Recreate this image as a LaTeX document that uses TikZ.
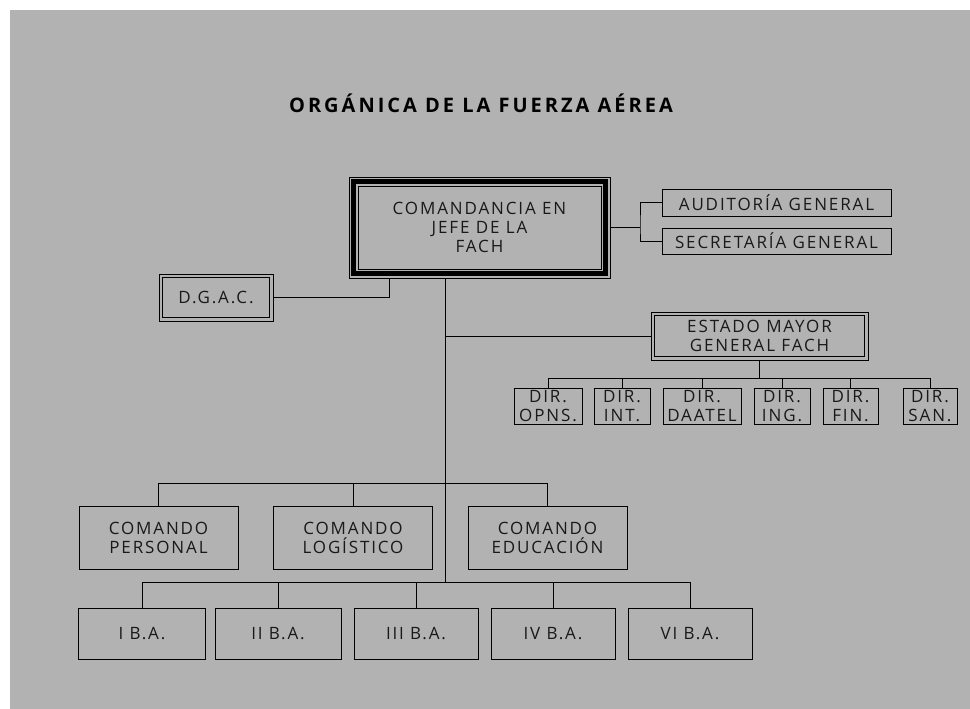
\documentclass[tikz,border=0pt]{standalone}
\usepackage{fontspec}
\setmainfont{Open Sans}[LetterSpace=11]
\newfontfamily\titulofuente{Open Sans}[LetterSpace=15]
\definecolor{fondo}{RGB}{178,178,178}
\definecolor{tinta}{RGB}{25,25,25}
\newcommand\cajaletra{\fontsize{17}{19}\selectfont}
\newcommand\tituloletra{\titulofuente\bfseries\fontsize{20}{22}\selectfont}
\begin{document}
\begin{tikzpicture}[x=1pt, y=-1pt, line width=0.9pt,
    caja/.style={draw, inner sep=0pt, align=center, font=\cajaletra, text=tinta},
    doble/.style={caja, append after command={
        \pgfextra{\draw ([shift={(4,4)}]\tikzlastnode.north west) rectangle ([shift={(-4,-4)}]\tikzlastnode.south east);}}}]
    % 背景
    \fill[white] (0,0) rectangle (970,709);
    \fill[fondo] (10,10) rectangle (970,709);
    \useasboundingbox (0,0) rectangle (970,709);
    % 标题
    \node[font=\tituloletra] (tit) at (481,103) {ORGÁNICA DE LA FUERZA AÉREA};
    % 主框
    \node[caja, minimum width=261pt, minimum height=101pt] (cj) at (479.5,227.5) {COMANDANCIA EN\\JEFE DE LA\\FACH};
    \draw[line width=4.5pt] ([shift={(5,5)}]cj.north west) rectangle ([shift={(-5,-5)}]cj.south east);
    \draw ([shift={(9.5,9.5)}]cj.north west) rectangle ([shift={(-9.5,-9.5)}]cj.south east);
    \node[caja, minimum width=229pt, minimum height=27pt] (aud) at (776.5,202.5) {AUDITORÍA GENERAL};
    \node[caja, minimum width=229pt, minimum height=26pt] (sec) at (776.5,241) {SECRETARÍA GENERAL};
    \node[doble, minimum width=114pt, minimum height=47pt] (dgac) at (216,297.5) {D.G.A.C.};
    \node[doble, minimum width=217pt, minimum height=48pt] (em) at (759.5,336) {ESTADO MAYOR\\GENERAL FACH};
    % direcciones
    \node[caja, minimum width=68pt, minimum height=36pt] (d1) at (548,406) {DIR.\\OPNS.};
    \node[caja, minimum width=56pt, minimum height=36pt] (d2) at (622,406) {DIR.\\INT.};
    \node[caja, minimum width=78pt, minimum height=36pt] (d3) at (702,406) {DIR.\\DAATEL};
    \node[caja, minimum width=56pt, minimum height=36pt] (d4) at (782,406) {DIR.\\ING.};
    \node[caja, minimum width=55pt, minimum height=36pt] (d5) at (850.5,406) {DIR.\\FIN.};
    \node[caja, minimum width=54pt, minimum height=36pt] (d6) at (930,406) {DIR.\\SAN.};
    % 司令部
    \node[caja, minimum width=159pt, minimum height=63pt] (cp) at (158.5,537.5) {COMANDO\\PERSONAL};
    \node[caja, minimum width=159pt, minimum height=63pt] (cl) at (353,537.5) {COMANDO\\LOGÍSTICO};
    \node[caja, minimum width=159pt, minimum height=63pt] (ce) at (547.5,537.5) {COMANDO\\EDUCACIÓN};
    % 基地
    \node[caja, minimum width=127pt, minimum height=51pt] (b1) at (142,633.5) {I B.A.};
    \node[caja, minimum width=126pt, minimum height=51pt] (b2) at (278,633.5) {II B.A.};
    \node[caja, minimum width=124pt, minimum height=51pt] (b3) at (416,633.5) {III B.A.};
    \node[caja, minimum width=124pt, minimum height=51pt] (b4) at (553,633.5) {IV B.A.};
    \node[caja, minimum width=124pt, minimum height=51pt] (b5) at (690,633.5) {VI B.A.};
    % 连线
    \coordinate (rama) at (640,227.5);
    \coordinate (tronco) at (445,0);
    \coordinate (dg) at (389,0);
    \coordinate (busdir) at (0,378);
    \coordinate (buscm) at (0,483);
    \coordinate (busba) at (0,582);
    \draw (cj.east) -- (rama);
    \draw (aud.west) -| (rama) |- (sec.west);
    \draw (dgac.east) -| (dg |- cj.south);
    \draw (tronco |- cj.south) -- (tronco |- busba);
    \draw (tronco |- em.west) -- (em.west);
    \draw (em.south) -- (em.south |- busdir);
    \foreach \i in {1,...,6} \draw (d\i.north) |- (em.south |- busdir);
    \foreach \n in {cp,cl,ce} \draw (\n.north) |- (tronco |- buscm);
    \foreach \i in {1,...,5} \draw (b\i.north) |- (tronco |- busba);
\end{tikzpicture}
\end{document}
